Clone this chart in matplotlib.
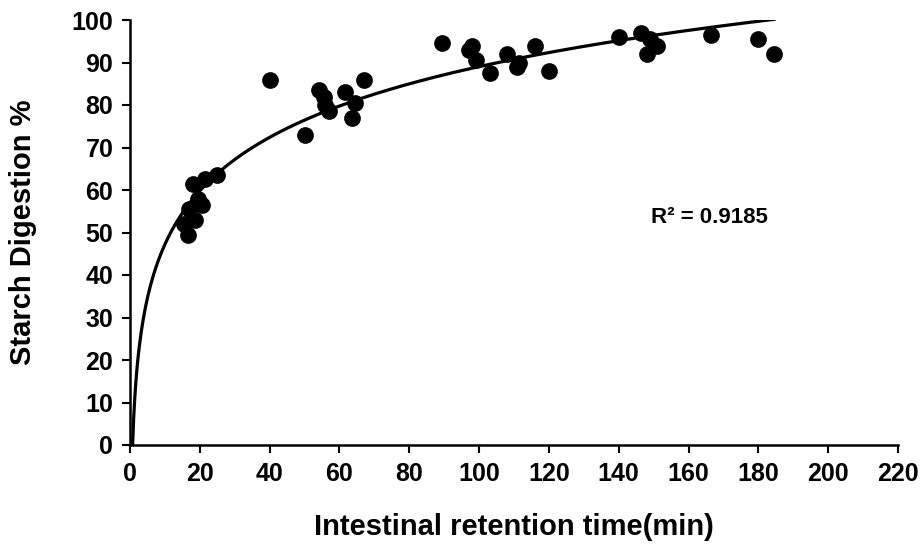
import numpy as np
import matplotlib
matplotlib.use("Agg")
import matplotlib.pyplot as plt

plt.rcParams['font.family'] = ['Liberation Sans', 'DejaVu Sans']
plt.rcParams['font.weight'] = 'bold'

retention_time = [15.5, 16.5, 17, 18, 18.5, 19.5, 20.5, 21.5, 25,
                  40, 50,
                  54, 55.5, 56, 57, 61.5, 63.5, 64.5, 67,
                  89.5, 97, 98, 99, 103, 108, 111, 111.5, 116, 120,
                  140, 146.5, 148, 149, 151, 166.5, 180, 184.5]
starch_digestion = [52, 49.5, 55.5, 61.5, 53, 58, 56.5, 62.5, 63.5,
                    86, 73,
                    83.5, 82, 80, 78.5, 83, 77, 80.5, 86,
                    94.5, 93, 94, 90.5, 87.5, 92, 89, 90, 94, 88,
                    96, 97, 92, 95.5, 94, 96.5, 95.5, 92]
r2_label = "R² = 0.9185"
x_ticks = list(range(0, 221, 20))
y_ticks = list(range(0, 101, 10))

x = np.array(retention_time)
y = np.array(starch_digestion)
a, b = np.polyfit(np.log(x), y, 1)

fig = plt.figure(figsize=(9.23, 5.5), dpi=100)
ax = fig.add_axes([130/923, 1-445/550, (898-130)/923, (445-20)/550])

x0 = np.exp(-b / a)
xs = np.linspace(x0, x.max(), 600)
ax.plot(xs, a*np.log(xs) + b, color='black', lw=2.3, zorder=2)
ax.scatter(x, y, s=145, color='black', zorder=3, linewidths=0)

ax.set_xlim(0, 220)
ax.set_ylim(0, 100)
ax.set_xticks(x_ticks)
ax.set_yticks(y_ticks)
for s in ['top', 'right']:
    ax.spines[s].set_visible(False)
for s in ['left', 'bottom']:
    ax.spines[s].set_linewidth(1.8)
ax.tick_params(direction='out', length=6, width=1.5, labelsize=18, pad=6)
for lab in ax.get_xticklabels() + ax.get_yticklabels():
    lab.set_fontweight('bold')
ax.set_xlabel('Intestinal retention time(min)', fontsize=21, fontweight='bold', labelpad=20)
ax.set_ylabel('Starch Digestion %', fontsize=21, fontweight='bold', labelpad=25)
ax.text(166, 53.5, r2_label, fontsize=16, fontweight='bold', ha='center', va='center')

fig.savefig('out.png', dpi=100)
